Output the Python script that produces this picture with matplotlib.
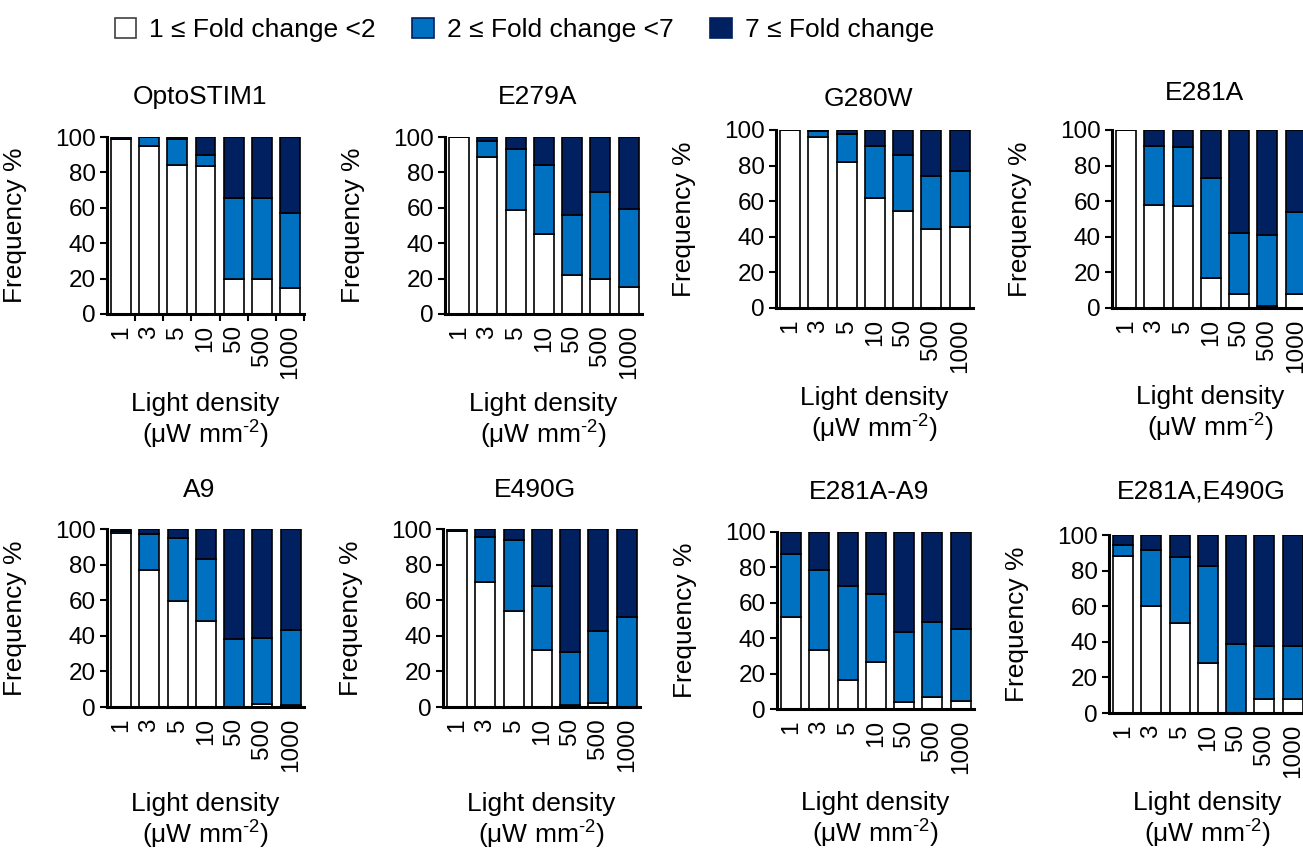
import matplotlib
matplotlib.use("Agg")
import matplotlib.pyplot as plt
from matplotlib.patches import Patch

plt.rcParams['font.family'] = ['Liberation Sans', 'DejaVu Sans']
plt.rcParams['mathtext.fontset'] = 'custom'
plt.rcParams['mathtext.rm'] = 'Liberation Sans'
plt.rcParams['mathtext.default'] = 'regular'

# light densities (uW mm-2)
densities = ['1', '3', '5', '10', '50', '500', '1000']
constructs = ['OptoSTIM1', 'E279A', 'G280W', 'E281A',
              'A9', 'E490G', 'E281A-A9', 'E281A,E490G']

# % cells with 1 <= fold change < 2
optostim1_low = [99, 95, 84, 83.5, 19.5, 20, 14.5]
e279a_low = [100, 88.6, 58.7, 45, 22, 20, 15.2]
g280w_low = [100, 96, 82, 62, 54.5, 44.6, 45.4]
e281a_low = [100, 57.8, 57.4, 17, 8, 1, 8]
a9_low = [97.7, 76.8, 59.4, 48.3, 0, 1.7, 1.3]
e490g_low = [99, 70, 53.7, 31.8, 1.3, 2.2, 0]
e281a_a9_low = [52.2, 33.4, 16.5, 26.8, 4.1, 6.8, 4.3]
e281a_e490g_low = [88.4, 60, 50.3, 28.1, 0, 8.1, 8.1]

# % cells with 2 <= fold change < 7
optostim1_mid = [0, 5, 14.7, 6.5, 45.8, 45.7, 42.7]
e279a_mid = [0, 9.4, 34.7, 39.4, 34, 48.9, 44]
g280w_mid = [0, 3.5, 15.5, 29, 31.2, 29.4, 31.6]
e281a_mid = [0, 33.2, 33, 56.3, 34.4, 40, 46]
a9_mid = [1.3, 20.6, 35.6, 34.7, 38.4, 36.9, 42.1]
e490g_mid = [0, 25.7, 40.3, 36.2, 29.6, 40.3, 50.4]
e281a_a9_mid = [35.2, 45.2, 53.1, 38.1, 39.2, 42.2, 40.7]
e281a_e490g_mid = [5.8, 31.6, 37.5, 54.6, 38.6, 29.6, 29.6]

low_all = [optostim1_low, e279a_low, g280w_low, e281a_low,
           a9_low, e490g_low, e281a_a9_low, e281a_e490g_low]
mid_all = [optostim1_mid, e279a_mid, g280w_mid, e281a_mid,
           a9_mid, e490g_mid, e281a_a9_mid, e281a_e490g_mid]

c_low = 'white'
c_mid = '#0070C0'
c_high = '#002060'

W, H = 1303, 851
fig = plt.figure(figsize=(W / 100, H / 100), dpi=100)

# axes boxes in pixels: left, top, bottom
boxes = [(107, 137, 314), (445, 137, 314), (776, 130, 308), (1112, 130, 308),
         (107, 529, 707), (443, 529, 707), (777, 532, 709), (1109, 535, 713)]
title_y = [97, 97, 99, 93, 490, 490, 492, 492]
xlabel_pad = [9, 9, 9, 8, 14, 14, 12, 9]
ax_w = 197

for i, name in enumerate(constructs):
    left, top, bottom = boxes[i]
    ax = fig.add_axes([left / W, 1 - bottom / H, ax_w / W, (bottom - top) / H])
    low = low_all[i]
    mid = mid_all[i]
    high = [100 - a - b for a, b in zip(low, mid)]
    x = list(range(len(densities)))
    bot2 = [a + b for a, b in zip(low, mid)]
    kw = dict(width=0.71, edgecolor='black', linewidth=1.2)
    ax.bar(x, low, color=c_low, **kw)
    ax.bar(x, mid, bottom=low, color=c_mid, **kw)
    ax.bar(x, high, bottom=bot2, color=c_high, **kw)

    ax.set_xlim(-0.5, 6.47)
    ax.set_ylim(0, 100)
    ax.set_yticks([0, 20, 40, 60, 80, 100])
    ax.set_xticks(x)
    ax.set_xticklabels(densities, rotation=90, fontsize=17.5)
    ax.tick_params(axis='y', labelsize=17.5, length=5, width=1.5, direction='out', pad=3)
    ax.tick_params(axis='x', length=0, pad=8)
    if i == 0:
        ax.set_xticks([k - 0.5 for k in range(1, 8)], minor=True)
        ax.tick_params(axis='x', which='minor', length=5, width=1.5, direction='out')
    for s in ['top', 'right']:
        ax.spines[s].set_visible(False)
    ax.spines['left'].set_linewidth(2.2)
    ax.spines['bottom'].set_linewidth(2.2)

    ax.set_ylabel('Frequency %', fontsize=19)
    ax.yaxis.set_label_coords(-80 / ax_w, 0.5)
    ax.set_xlabel('Light density\n(μW mm$^{\u2010 2}$)', fontsize=19,
                  labelpad=xlabel_pad[i], linespacing=1.12)

    fig.text((left + ax_w / 2 - 6) / W, 1 - title_y[i] / H, name,
             fontsize=19, ha='center', va='center')

handles = [Patch(facecolor=c_low, edgecolor='#404040', linewidth=1.2),
           Patch(facecolor=c_mid, edgecolor='#002060', linewidth=1.2),
           Patch(facecolor=c_high, edgecolor='#002060', linewidth=1.2)]
labels = ['1 ≤ Fold change <2', '2 ≤ Fold change <7', '7 ≤ Fold change']
fig.legend(handles, labels, loc='center left', bbox_to_anchor=(104 / W, 1 - 30 / H),
           ncol=3, frameon=False, fontsize=19, handlelength=0.8, handleheight=0.8,
           handletextpad=0.5, columnspacing=1.4, borderaxespad=0)

fig.savefig('out.png', dpi=100)
